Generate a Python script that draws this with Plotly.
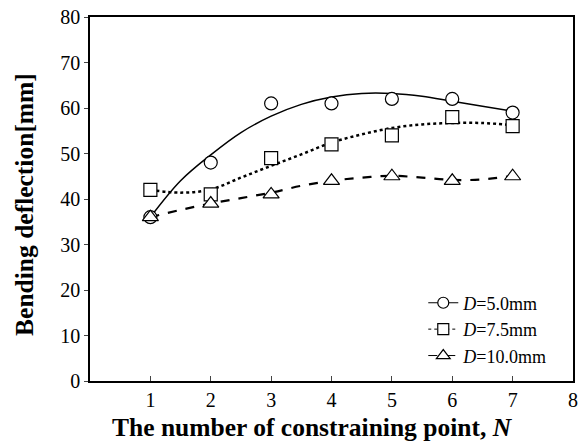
import plotly.graph_objects as go

# measured points
n_points = [1, 2, 3, 4, 5, 6, 7]
d50 = [36, 48, 61, 61, 62, 62, 59]
d75 = [42, 41, 49, 52, 54, 58, 56]
d100 = [36, 39, 41, 44, 45, 44, 45]

# trend curves
curve_x = [1, 1.5, 2, 2.5, 3, 3.5, 4, 4.5, 5, 5.5, 6, 6.5, 7]
curve_d50 = [36, 44, 49.7, 54.6, 58.2, 60.8, 62.4, 63.2, 63.2, 62.6, 61.5, 60.4, 59.3]
curve_d75 = [42, 41.4, 42.1, 44.7, 47.3, 49.8, 52.4, 54.2, 55.6, 56.4, 56.7, 56.7, 56.2]
curve_d100 = [36, 37.6, 39.0, 40.2, 41.4, 42.9, 44.0, 44.7, 45.1, 44.7, 44.2, 44.3, 45.1]

labels = ["<i>D</i>=5.0mm", "<i>D</i>=7.5mm", "<i>D</i>=10.0mm"]
x_ticks = [1, 2, 3, 4, 5, 6, 7, 8]
y_ticks = [0, 10, 20, 30, 40, 50, 60, 70, 80]
x_title = "<b>The number of constraining point, <i>N</i></b>"
y_title = "<b>Bending deflection[mm]</b>"

series = [
    (d50, curve_d50, "circle", 13, "solid", 1.5),
    (d75, curve_d75, "square", 13, "dot", 2.5),
    (d100, curve_d100, "triangle-up", 14, "dash", 2.2),
]

FF = "Liberation Serif"

fig = go.Figure()
for (vals, cvals, sym, msize, dash, lw), lab in zip(series, labels):
    fig.add_trace(go.Scatter(x=curve_x, y=cvals, mode="lines", line_shape="spline",
                             line=dict(color="black", width=lw, dash=dash),
                             showlegend=False, hoverinfo="skip"))
for (vals, cvals, sym, msize, dash, lw), lab in zip(series, labels):
    fig.add_trace(go.Scatter(x=n_points, y=vals, mode="markers",
                             marker=dict(symbol=sym, size=msize, color="white",
                                         line=dict(color="black", width=1.2)),
                             showlegend=False))
for (vals, cvals, sym, msize, dash, lw), lab in zip(series, labels):
    fig.add_trace(go.Scatter(x=[None], y=[None], mode="lines+markers", name=lab,
                             line=dict(color="black", width=1 if dash != "solid" else 1.2, dash=dash),
                             marker=dict(symbol=sym, size=msize - 2, color="white",
                                         line=dict(color="black", width=1.2))))

fig.add_annotation(text=x_title, xref="paper", yref="paper", x=0.461, y=-0.1694,
                   xanchor="center", yanchor="bottom", showarrow=False, borderpad=0,
                   font=dict(family=FF, size=25.5, color="black"))
fig.add_annotation(text=y_title, xref="paper", yref="paper", x=-0.137, y=0.486,
                   xanchor="center", yanchor="middle", showarrow=False, textangle=-90,
                   font=dict(family=FF, size=25.5, color="black"))

fig.update_layout(
    width=584, height=443,
    margin=dict(l=90, r=6, t=15, b=62),
    paper_bgcolor="white", plot_bgcolor="white",
    font=dict(family=FF, size=20, color="black"),
    showlegend=True,
    legend=dict(x=0.69, y=0.265, xanchor="left", yanchor="top",
                bgcolor="rgba(0,0,0,0)", font=dict(family=FF, size=18), itemwidth=30,
                tracegroupgap=0),
    xaxis=dict(range=[0, 8], tickvals=x_ticks, ticks="inside", ticklen=5,
               tickfont=dict(family=FF, size=20),
               showline=True, linecolor="black", linewidth=1.5, mirror=True,
               showgrid=False, zeroline=False),
    yaxis=dict(range=[0, 80], tickvals=y_ticks, ticks="outside", ticklen=4,
               tickfont=dict(family=FF, size=20),
               showline=True, linecolor="black", linewidth=1.5, mirror=True,
               showgrid=False, zeroline=False),
)

fig.write_html("out.html")
